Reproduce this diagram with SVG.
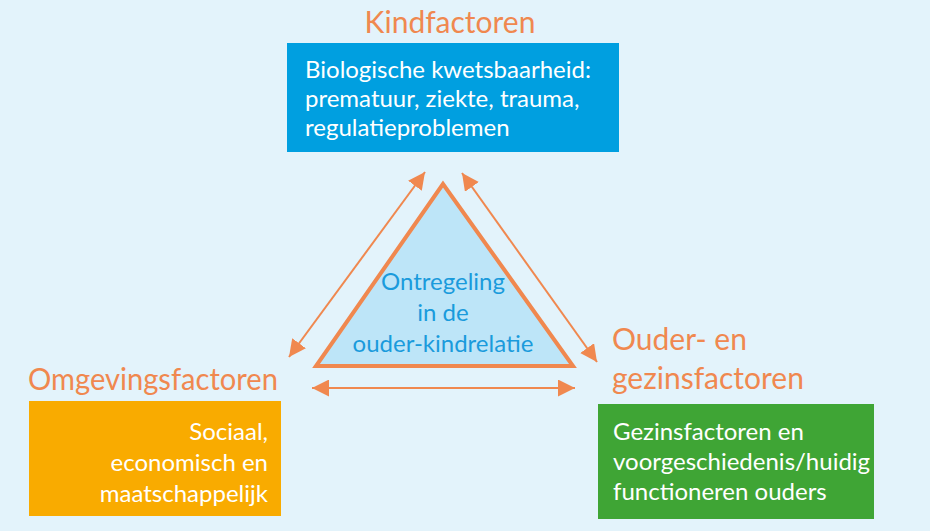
<svg xmlns="http://www.w3.org/2000/svg" width="930" height="531" viewBox="0 0 930 531">
<defs>
<style>
.t{font-family:Lato,"Open Sans","DejaVu Sans",sans-serif}
.title{font-size:30px;fill:#f0884f}
.box{font-size:24px;fill:#ffffff}
.tri{font-size:24px;fill:#1a9bdc}
.conn{stroke:#f0884f;stroke-width:2;fill:none}
</style>
<marker id="ah" viewBox="0 0 10 10" refX="10" refY="5" markerWidth="8.5" markerHeight="8.5" markerUnits="strokeWidth" orient="auto-start-reverse">
<path d="M0,0 L10,5 L0,10 z" fill="#f0884f"/>
</marker>
</defs>
<rect width="930" height="531" fill="#e3f3fb"/>
<g id="kind">
<text class="t title" x="450" y="33" text-anchor="middle">Kindfactoren</text>
<rect x="287" y="43" width="332" height="109" fill="#009fe0"/>
<text class="t box" x="305" y="78">Biologische kwetsbaarheid:</text>
<text class="t box" x="305" y="107">prematuur, ziekte, trauma,</text>
<text class="t box" x="305" y="136">regulatieproblemen</text>
</g>
<g id="center">
<polygon points="443,184 316,366 573,366" fill="#bde5f8" stroke="#f0884f" stroke-width="4" stroke-linejoin="miter"/>
<text class="t tri" x="443" y="290" text-anchor="middle">Ontregeling</text>
<text class="t tri" x="443" y="321" text-anchor="middle">in de</text>
<text class="t tri" x="443" y="352" text-anchor="middle">ouder-kindrelatie</text>
</g>
<g id="omgeving">
<text class="t title" x="28" y="390" textLength="250" lengthAdjust="spacingAndGlyphs">Omgevingsfactoren</text>
<rect x="29" y="401" width="252" height="115" fill="#f9ab00"/>
<text class="t box" x="268" y="440" text-anchor="end">Sociaal,</text>
<text class="t box" x="268" y="471" text-anchor="end">economisch en</text>
<text class="t box" x="268" y="502" text-anchor="end">maatschappelijk</text>
</g>
<g id="ouder">
<text class="t title" x="612" y="350">Ouder- en</text>
<text class="t title" x="612" y="389">gezinsfactoren</text>
<rect x="598" y="404" width="276" height="115" fill="#3fa535"/>
<text class="t box" x="613" y="440">Gezinsfactoren en</text>
<text class="t box" x="613" y="470">voorgeschiedenis/huidig</text>
<text class="t box" x="613" y="500">functioneren ouders</text>
</g>
<g id="connectors">
<line class="conn" x1="289" y1="357" x2="425" y2="172" marker-start="url(#ah)" marker-end="url(#ah)"/>
<line class="conn" x1="462" y1="173" x2="597" y2="362" marker-start="url(#ah)" marker-end="url(#ah)"/>
<line class="conn" x1="312" y1="388" x2="575" y2="388" marker-start="url(#ah)" marker-end="url(#ah)"/>
</g>
</svg>
